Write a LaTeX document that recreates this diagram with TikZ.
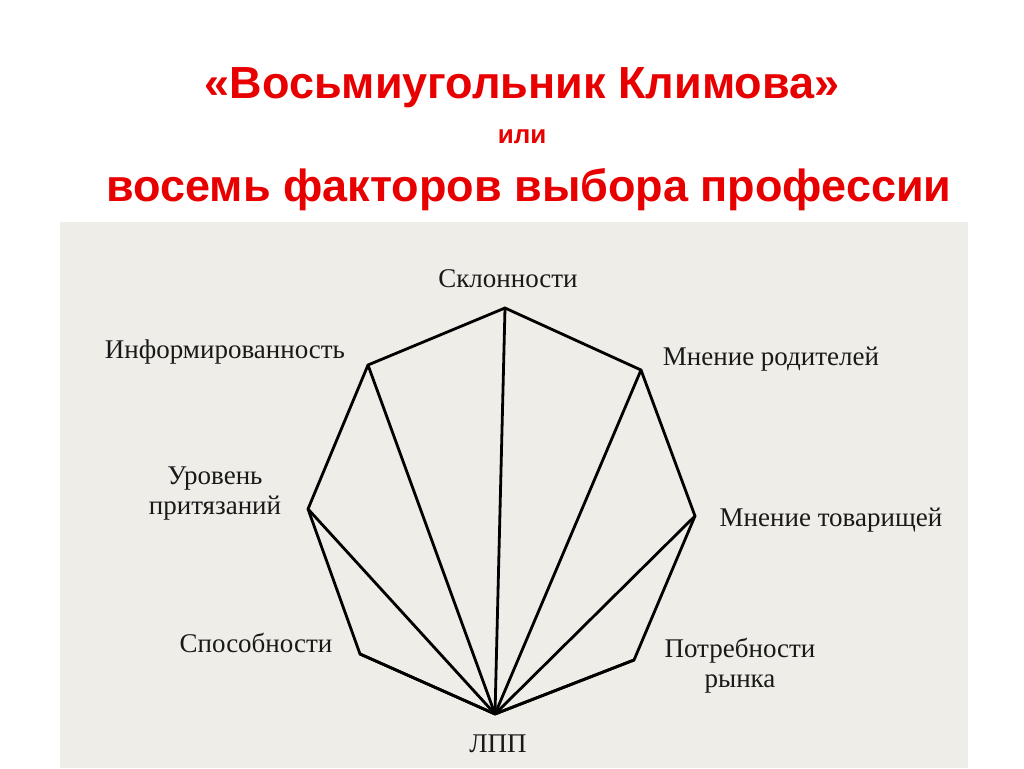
\documentclass[tikz,border=0pt]{standalone}
\usepackage{fontspec}
\setmainfont{Liberation Serif}
\newfontfamily\titlefont{Liberation Sans}
\usepackage{xcolor}
\usetikzlibrary{positioning}
\definecolor{scanbg}{RGB}{238,237,232}
\definecolor{titlered}{RGB}{232,0,0}

\begin{document}
\begin{tikzpicture}[x=1pt,y=-1pt,line width=2.8pt,line join=miter,
  every node/.style={inner sep=0pt},
  lbl/.style={font=\fontsize{27}{30}\selectfont,text=black!90,align=center},
  ttl/.style={font=\titlefont\bfseries\fontsize{45}{50}\selectfont,text=titlered}]
\useasboundingbox[fill=white] (0,0) rectangle (1024,768);
\fill[scanbg] (60,222) rectangle (968,768);
% titles
\node (t1) at (522,88) [ttl] {«Восьмиугольник Климова»};
\node (t2) at (522,137) [ttl,font=\titlefont\bfseries\fontsize{26}{28}\selectfont] {или};
\node (t3) at (529,190) [ttl] {восемь факторов выбора профессии};
% vertices
\coordinate (a) at (505,308);
\coordinate (b) at (641,370);
\coordinate (c) at (695,516);
\coordinate (d) at (634,660);
\coordinate (e) at (495,714);
\coordinate (f) at (360,654);
\coordinate (g) at (308,509);
\coordinate (h) at (368,365);
\draw (a) -- (b) -- (c) -- (d) -- (e) -- (f) -- (g) -- (h) -- cycle;
\draw (e) -- (a);
\draw (e) -- (b);
\draw (e) -- (c);
\draw (e) -- (d);
\draw (e) -- (f);
\draw (e) -- (g);
\draw (e) -- (h);
% labels
\node (la) at (508,279) [lbl] {Склонности};
\node (lb) at (771,359) [lbl] {Мнение родителей};
\node (lc) at (831,520) [lbl] {Мнение товарищей};
\node (ld) at (740,666) [lbl] {Потребности\\рынка};
\node (le) at (498,744) [lbl] {ЛПП};
\node (lf) at (256,643) [lbl] {Способности};
\node (lg) at (215,494) [lbl] {Уровень\\притязаний};
\node (lh) at (225,352) [lbl] {Информированность};
\end{tikzpicture}
\end{document}
